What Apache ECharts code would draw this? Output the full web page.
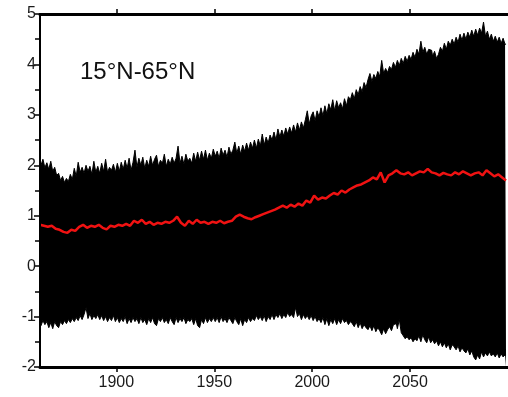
<!DOCTYPE html>
<html><head><meta charset="utf-8">
<script src="https://cdn.jsdelivr.net/npm/echarts@6/dist/echarts.min.js"></script>
<style>html,body{margin:0;padding:0;background:#fff}#c{width:508px;height:397px}</style>
</head><body><div id="c"></div><script>
// Yearly envelope of the (monthly) black series, 1861..2099
const envelopeStartYear = 1861;
const upperEnvelope = [
 2.10,2.00,2.12,1.95,2.05,1.92,2.08,1.88,1.96,1.80,
 1.84,1.70,1.78,1.66,1.74,1.68,1.82,1.72,1.94,1.78,
 2.06,1.86,1.96,1.84,2.00,1.88,1.98,1.82,2.08,1.86,
 1.98,1.84,2.04,1.88,2.12,1.86,1.96,1.90,2.02,1.86,
 2.04,1.88,2.06,1.92,2.10,1.94,2.14,1.90,2.06,2.30,
 1.96,2.14,2.00,2.16,1.94,2.10,1.98,2.18,2.00,2.12,
 2.20,1.98,2.10,2.04,2.22,1.98,2.12,2.02,2.16,2.04,
 2.14,2.38,2.04,2.18,2.02,2.22,2.08,2.14,2.04,2.24,
 2.08,2.26,2.10,2.28,2.12,2.30,2.10,2.24,2.14,2.32,
 2.18,2.28,2.14,2.34,2.20,2.30,2.16,2.36,2.22,2.30,
 2.46,2.24,2.38,2.22,2.40,2.28,2.44,2.30,2.46,2.34,
 2.50,2.34,2.52,2.38,2.62,2.40,2.56,2.44,2.60,2.50,
 2.66,2.50,2.72,2.56,2.70,2.58,2.74,2.62,2.76,2.64,
 2.80,2.66,2.84,2.70,2.86,2.74,2.90,3.08,2.82,2.98,
 3.06,2.88,3.08,2.96,3.14,2.98,3.18,3.02,3.22,3.10,
 3.30,3.08,3.28,3.14,3.24,3.12,3.32,3.18,3.36,3.30,
 3.44,3.32,3.50,3.40,3.56,3.46,3.64,3.54,3.70,3.82,
 3.66,3.80,3.72,3.86,3.76,4.08,3.82,3.92,3.84,3.96,
 3.90,4.04,3.94,4.08,3.98,4.12,4.02,4.16,4.06,4.18,
 4.10,4.24,4.14,4.30,4.20,4.46,4.24,4.34,4.20,4.30,
 4.28,4.16,4.26,4.12,4.20,4.34,4.26,4.42,4.30,4.46,
 4.38,4.50,4.40,4.54,4.44,4.60,4.48,4.62,4.50,4.64,
 4.54,4.68,4.56,4.70,4.58,4.72,4.62,4.84,4.56,4.66,
 4.50,4.60,4.46,4.56,4.44,4.54,4.42,4.52,4.40
];
const lowerEnvelope = [
 -1.10,-1.18,-1.08,-1.16,-1.10,-1.22,-1.12,-1.24,-1.10,-1.18,
 -1.22,-1.10,-1.16,-1.08,-1.14,-1.06,-1.12,-1.04,-1.10,-1.02,
 -1.08,-0.98,-1.06,-0.96,-0.82,-1.04,-0.94,-1.06,-0.98,-1.04,
 -0.96,-1.06,-0.98,-1.08,-1.00,-1.10,-1.02,-1.08,-0.98,-1.10,
 -1.02,-1.12,-1.04,-1.10,-1.00,-1.14,-1.04,-1.12,-1.02,-1.10,
 -1.04,-1.14,-1.02,-1.12,-1.06,-1.16,-1.04,-1.12,-1.02,-1.14,
 -1.18,-1.04,-1.10,-1.02,-1.12,-1.06,-1.14,-1.02,-1.10,-1.16,
 -1.02,-1.12,-1.04,-1.10,-1.02,-1.14,-1.06,-1.10,-1.04,-1.16,
 -1.04,-1.18,-1.22,-1.06,-1.14,-1.02,-1.12,-1.04,-1.10,-1.02,
 -1.10,-1.02,-1.12,-1.00,-1.10,-1.04,-1.12,-1.02,-1.08,-1.14,
 -1.02,-1.10,-1.16,-1.04,-1.18,-1.06,-1.12,-1.02,-1.10,-1.04,
 -1.08,-0.98,-1.06,-1.00,-1.08,-0.98,-1.10,-1.00,-1.06,-0.96,
 -1.06,-0.96,-1.02,-0.94,-1.04,-0.96,-1.02,-0.92,-1.00,-0.96,
 -1.02,-0.82,-1.00,-0.94,-1.06,-0.96,-1.04,-0.98,-1.06,-0.98,
 -1.08,-1.00,-1.10,-1.04,-1.12,-1.02,-1.16,-1.04,-1.18,-1.06,
 -1.14,-1.04,-1.16,-1.06,-1.14,-1.04,-1.12,-1.08,-1.16,-1.10,
 -1.14,-1.20,-1.10,-1.22,-1.12,-1.24,-1.16,-1.22,-1.26,-1.18,
 -1.28,-1.18,-1.30,-1.22,-1.28,-1.36,-1.24,-1.34,-1.26,-1.20,
 -1.28,-1.16,-1.14,-1.24,-1.06,-1.32,-1.38,-1.44,-1.40,-1.46,
 -1.42,-1.50,-1.44,-1.48,-1.38,-1.50,-1.36,-1.46,-1.52,-1.40,
 -1.52,-1.46,-1.54,-1.48,-1.58,-1.50,-1.60,-1.52,-1.62,-1.54,
 -1.66,-1.56,-1.60,-1.66,-1.58,-1.70,-1.62,-1.68,-1.72,-1.64,
 -1.76,-1.68,-1.80,-1.86,-1.76,-1.84,-1.70,-1.80,-1.72,-1.78,
 -1.70,-1.78,-1.74,-1.80,-1.72,-1.82,-1.74,-1.80,-1.76
];
// Smoothed (red) series, every 2 years from 1861
const meanStartYear = 1861;
const meanStep = 2;
const smoothedMean = [
 0.82,0.80,0.78,0.80,0.74,0.72,0.68,0.66,0.72,0.70,
 0.78,0.82,0.76,0.80,0.78,0.82,0.76,0.73,0.80,0.78,
 0.82,0.80,0.84,0.80,0.90,0.86,0.92,0.84,0.88,0.82,
 0.86,0.84,0.88,0.86,0.90,0.98,0.86,0.80,0.90,0.84,
 0.92,0.86,0.88,0.84,0.88,0.86,0.90,0.85,0.88,0.90,
 0.98,1.02,0.98,0.95,0.93,0.97,1.00,1.03,1.06,1.09,
 1.12,1.16,1.20,1.16,1.22,1.18,1.24,1.20,1.30,1.26,
 1.40,1.32,1.36,1.34,1.40,1.45,1.42,1.50,1.46,1.52,
 1.56,1.60,1.62,1.66,1.70,1.76,1.72,1.86,1.66,1.80,
 1.84,1.90,1.84,1.82,1.86,1.80,1.84,1.88,1.86,1.93,
 1.86,1.84,1.80,1.85,1.82,1.80,1.86,1.82,1.88,1.84,
 1.80,1.84,1.86,1.80,1.90,1.84,1.78,1.82,1.76,1.70
];
const xTickYears = [1900, 1950, 2000, 2050];
const yMin = -2, yMax = 5, yStep = 1;
const xMin = 1861, xMax = 2100;
const regionLabel = '15°N-65°N';

const upperData = upperEnvelope.map((v, i) => [envelopeStartYear + i, v]);
const lowerData = lowerEnvelope.map((v, i) => [envelopeStartYear + i, v]);
const meanData = smoothedMean.map((v, i) => [meanStartYear + i * meanStep, v]);

const chart = echarts.init(document.getElementById('c'), null, {renderer: 'canvas'});
const font = 'Liberation Sans, Arial, sans-serif';
chart.setOption({
  animation: false,
  backgroundColor: '#fff',
  grid: {left: 40, right: -3, top: 14, bottom: 30, containLabel: false},
  xAxis: [{
    type: 'value', min: xMin, max: xMax, position: 'bottom', z: 10,
    axisLine: {show: true, onZero: false, lineStyle: {color: '#000', width: 3}},
    axisTick: {show: true, inside: false, length: 5, lineStyle: {color: '#000', width: 1.5}, customValues: xTickYears},
    axisLabel: {show: true, margin: 8, color: '#1a1a1a', fontSize: 16, fontFamily: font, customValues: xTickYears, formatter: v => String(v)},
    splitLine: {show: false}
  }, {
    type: 'value', min: xMin, max: xMax, position: 'top', z: 10,
    axisLine: {show: true, onZero: false, lineStyle: {color: '#000', width: 3}},
    axisTick: {show: true, inside: false, length: 5, lineStyle: {color: '#000', width: 1.5}, customValues: xTickYears},
    axisLabel: {show: false},
    splitLine: {show: false}
  }],
  yAxis: {
    type: 'value', min: yMin, max: yMax, interval: yStep, z: 10,
    axisLine: {show: true, onZero: false, lineStyle: {color: '#000', width: 2}},
    axisTick: {show: true, inside: false, length: 6, lineStyle: {color: '#000', width: 1.5}},
    minorTick: {show: true, splitNumber: 2, length: 5, lineStyle: {color: '#000', width: 1.5}},
    axisLabel: {margin: 4, color: '#1a1a1a', fontSize: 16, fontFamily: font},
    splitLine: {show: false}
  },
  series: [{
    name: 'upper', type: 'line', data: upperData,
    step: 'middle', symbol: 'none', silent: true,
    lineStyle: {color: '#000', width: 1},
    areaStyle: {color: '#000', opacity: 1, origin: 'start'}, z: 2
  }, {
    name: 'lower', type: 'line', data: lowerData,
    step: 'middle', symbol: 'none', silent: true,
    lineStyle: {color: '#000', width: 1},
    areaStyle: {color: '#fff', opacity: 1, origin: 'start'}, z: 3
  }, {
    name: 'mean', type: 'line', data: meanData, symbol: 'none', silent: true,
    lineStyle: {color: '#f01212', width: 2.5}, z: 5
  }],
  graphic: [{
    type: 'text', left: 80, top: 60,
    style: {text: regionLabel, font: '24px ' + font, fill: '#111'}
  }]
});
</script></body></html>
